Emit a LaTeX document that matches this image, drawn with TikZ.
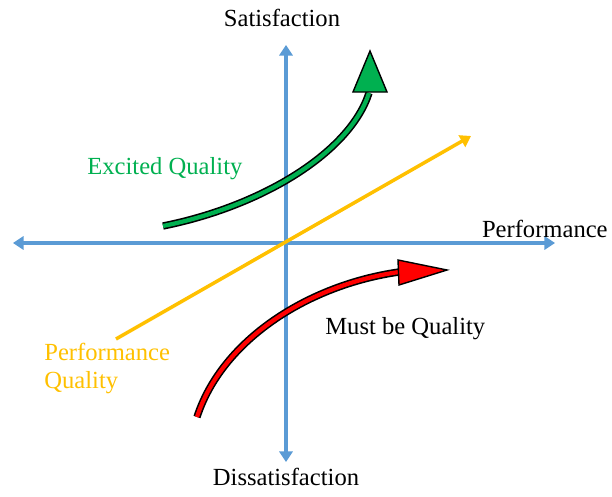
\documentclass[tikz,border=0pt]{standalone}
\usepackage{fontspec}
\setmainfont{Liberation Serif}
\usetikzlibrary{arrows.meta}
\definecolor{axisblue}{RGB}{91,155,213}
\definecolor{exgreen}{RGB}{0,176,80}
\definecolor{perfyellow}{RGB}{255,192,0}
\definecolor{mustred}{RGB}{255,0,0}
\begin{document}
\begin{tikzpicture}[x=0.02cm,y=-0.02cm,
  axis/.style={draw=axisblue,line width=2pt,-{Triangle[length=6pt,width=7.5pt]}},
  lbl/.style={font=\fontsize{14}{16}\selectfont,inner sep=0pt},
  bandout/.style={draw=black,line width=4.2pt},
  bandin/.style={line width=2.4pt},
  headstyle/.style={draw=black,line width=0.8pt,line join=miter}]
\useasboundingbox (0,0) rectangle (612,497);
% axes
\coordinate (o) at (286,243);
\coordinate (xl) at (13,243);
\coordinate (xr) at (555,243);
\coordinate (yt) at (286,45);
\coordinate (yb) at (286,462);
\draw[axis] (o) -- (xr);
\draw[axis] (o) -- (xl);
\draw[axis] (o) -- (yt);
\draw[axis] (o) -- (yb);
% labels
\node[lbl,anchor=base] (sat) at (282,27) {Satisfaction};
\node[lbl,anchor=base east] (perf) at (608,237) {Performance};
\node[lbl,anchor=base] (dis) at (286,485) {Dissatisfaction};
\node[lbl,anchor=base west,text=exgreen] (exq) at (87,174) {Excited Quality};
\node[lbl,anchor=base west] (mbq) at (325,334) {Must be Quality};
\node[lbl,anchor=base west,text=perfyellow] (pq1) at (44,360) {Performance};
\node[lbl,anchor=base west,text=perfyellow] (pq2) at (44,388) {Quality};
% performance line
\coordinate (ys) at (116,339);
\coordinate (ye) at (471,136);
\draw[draw=perfyellow,line width=2pt,-{Triangle[length=6pt,width=7.5pt]}] (ys) -- (ye);
% excited quality arrow
\coordinate (gs) at (163,226);
\coordinate (ge) at (369,93);
\draw[bandout] (gs) .. controls (263,206) and (350,152) .. (ge);
\draw[bandin,draw=exgreen] (gs) .. controls (263,206) and (350,152) .. (ge);
\filldraw[headstyle,fill=exgreen] (370,51) -- (387,92) -- (353,92) -- cycle;
% must-be quality arrow
\coordinate (rs) at (197,417);
\coordinate (re) at (399,272);
\draw[bandout] (rs) .. controls (222,340) and (308,285) .. (re);
\draw[bandin,draw=mustred] (rs) .. controls (222,340) and (308,285) .. (re);
\filldraw[headstyle,fill=mustred] (447,270) -- (399,285) -- (398,260) -- cycle;
\end{tikzpicture}
\end{document}
